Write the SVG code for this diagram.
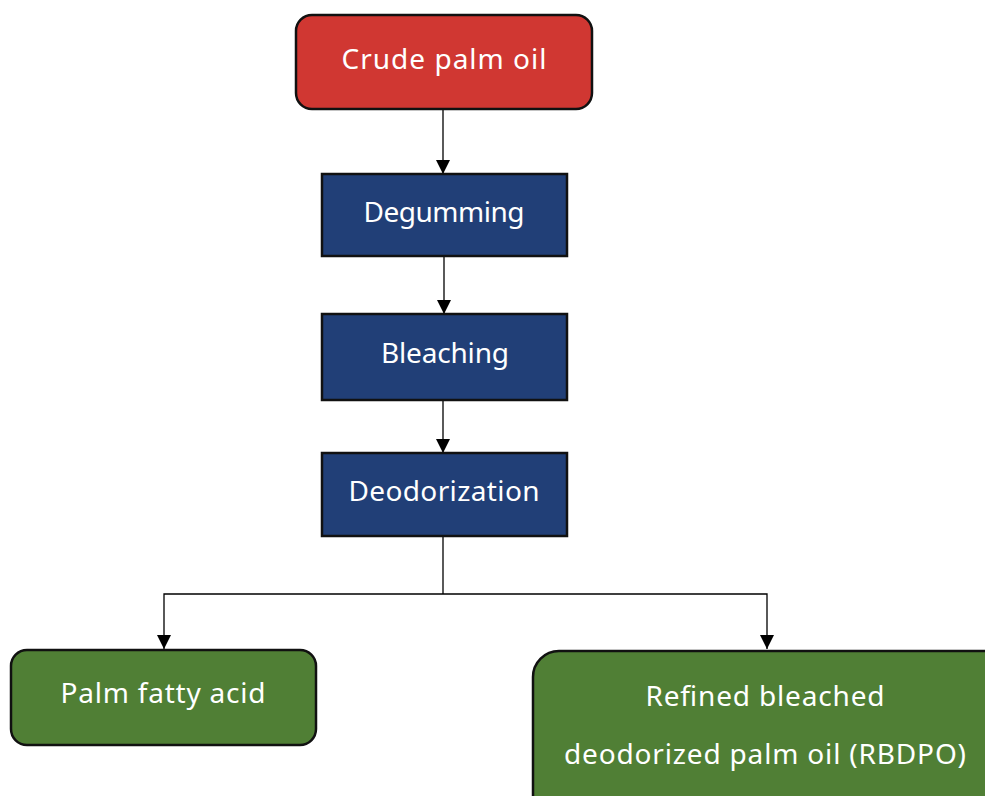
<svg xmlns="http://www.w3.org/2000/svg" width="985" height="796" viewBox="0 0 985 796">
<defs>
<style>
.box{stroke:#111;stroke-width:2.5}
.red{fill:#D03732}
.blue{fill:#213F77}
.green{fill:#507F35}
.t{font-family:"Noto Sans","Open Sans",sans-serif;font-size:28px;fill:#fff;text-anchor:middle}
.c{stroke:#000;stroke-width:1.3;fill:none}
</style>
<marker id="ah" markerWidth="14" markerHeight="14" refX="14" refY="7" orient="auto" markerUnits="userSpaceOnUse">
<path d="M0,0 L14,7 L0,14 Z" fill="#000"/>
</marker>
</defs>
<rect width="985" height="796" fill="#fff"/>
<g id="connectors">
<line class="c" x1="443" y1="109" x2="443" y2="174" marker-end="url(#ah)"/>
<line class="c" x1="444" y1="256" x2="444" y2="314" marker-end="url(#ah)"/>
<line class="c" x1="443" y1="386" x2="443" y2="453" marker-end="url(#ah)"/>
<polyline class="c" points="443,536 443,594"/>
<polyline class="c" points="443,594 164,594 164,649" marker-end="url(#ah)"/>
<polyline class="c" points="443,594 767,594 767,649" marker-end="url(#ah)"/>
</g>
<g id="crude">
<rect class="box red" x="296" y="15" width="296" height="94" rx="16"/>
<text class="t" x="444" y="69" textLength="205" lengthAdjust="spacing">Crude palm oil</text>
</g>
<g id="degumming">
<rect class="box blue" x="322" y="174" width="245" height="82"/>
<text class="t" x="444" y="222" textLength="161" lengthAdjust="spacing">Degumming</text>
</g>
<g id="bleaching">
<rect class="box blue" x="322" y="314" width="245" height="86"/>
<text class="t" x="445" y="363" textLength="128" lengthAdjust="spacing">Bleaching</text>
</g>
<g id="deodorization">
<rect class="box blue" x="322" y="453" width="245" height="83"/>
<text class="t" x="444" y="501" textLength="191" lengthAdjust="spacing">Deodorization</text>
</g>
<g id="pfa">
<rect class="box green" x="11" y="650" width="305" height="95" rx="16"/>
<text class="t" x="163" y="703" textLength="205" lengthAdjust="spacing">Palm fatty acid</text>
</g>
<g id="rbdpo">
<rect class="box green" x="533" y="651" width="480" height="170" rx="26"/>
<text class="t" x="765" y="706" textLength="239" lengthAdjust="spacing">Refined bleached</text>
<text class="t" x="765" y="764" textLength="402" lengthAdjust="spacing">deodorized palm oil (RBDPO)</text>
</g>
</svg>
